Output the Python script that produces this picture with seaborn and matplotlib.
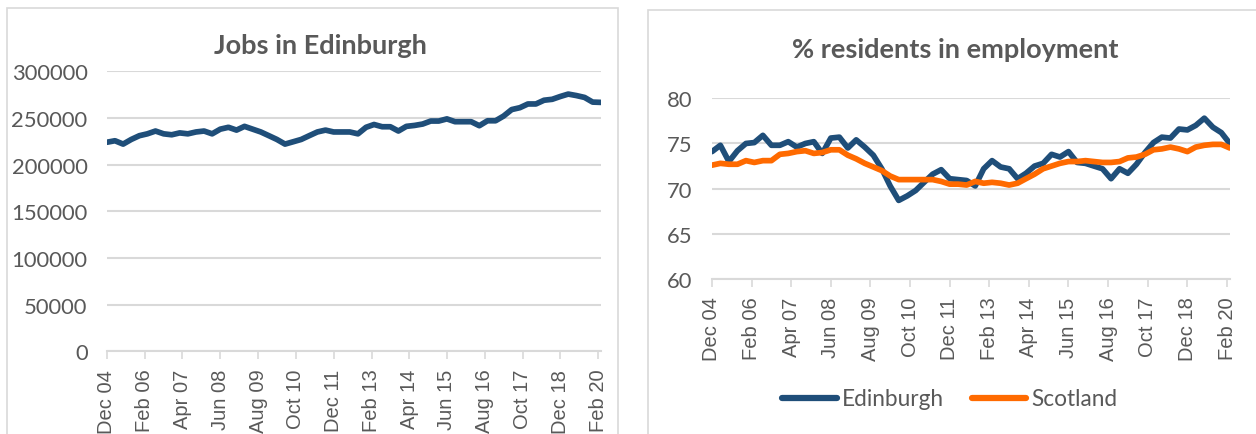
import matplotlib
matplotlib.use("Agg")
import matplotlib.pyplot as plt
from matplotlib.patches import Rectangle
import numpy as np
import pandas as pd
import seaborn as sns

# Quarterly observations, Dec 2004 to Mar 2020
periods = pd.date_range("2004-12-01", periods=62, freq="3MS")

jobs_edinburgh = [
    224000, 225600, 222000, 227000, 231000, 233000, 236000, 233000, 232000, 234000,
    233000, 235000, 236000, 233000, 238000, 240000, 237000, 241000, 238000, 235000,
    231000, 227000, 222000, 224500, 227000, 231000, 235000, 237000, 235000, 235000,
    235000, 233000, 240000, 243000, 240600, 240600, 236000, 241000, 242000, 243500,
    246700, 246700, 249000, 246000, 246000, 246000, 241700, 247000, 247000, 252000,
    259000, 261000, 265000, 265000, 269000, 270000, 273000, 275600, 274000, 272000,
    267000, 266700,
]

employment_edinburgh = [
    74.1, 74.8, 73.0, 74.2, 75.0, 75.1, 75.9, 74.8, 74.8, 75.2,
    74.6, 75.0, 75.2, 73.9, 75.6, 75.7, 74.5, 75.4, 74.6, 73.7,
    72.2, 70.3, 68.7, 69.2, 69.8, 70.7, 71.6, 72.1, 71.1, 71.0,
    70.9, 70.3, 72.2, 73.1, 72.4, 72.2, 71.1, 71.7, 72.5, 72.8,
    73.8, 73.5, 74.1, 72.9, 72.8, 72.5, 72.2, 71.1, 72.2, 71.7,
    72.7, 74.0, 75.1, 75.7, 75.6, 76.6, 76.5, 77.0, 77.8, 76.8,
    76.2, 75.0,
]

employment_scotland = [
    72.6, 72.8, 72.7, 72.7, 73.1, 72.9, 73.1, 73.1, 73.8, 73.9,
    74.1, 74.2, 73.9, 74.0, 74.3, 74.3, 73.7, 73.3, 72.8, 72.4,
    72.0, 71.4, 71.0, 71.0, 71.0, 71.0, 71.0, 70.8, 70.5, 70.5,
    70.4, 70.8, 70.6, 70.7, 70.6, 70.4, 70.6, 71.1, 71.6, 72.2,
    72.5, 72.8, 73.0, 73.0, 73.1, 73.0, 72.9, 72.9, 73.0, 73.4,
    73.5, 73.8, 74.3, 74.4, 74.6, 74.4, 74.1, 74.6, 74.8, 74.9,
    74.9, 74.5,
]

tick_dates = pd.date_range("2004-12-01", periods=14, freq="14MS")
tick_labels = ["Dec 04", "Feb 06", "Apr 07", "Jun 08", "Aug 09", "Oct 10", "Dec 11",
               "Feb 13", "Apr 14", "Jun 15", "Aug 16", "Oct 17", "Dec 18", "Feb 20"]

jobs_ticks = [0, 50000, 100000, 150000, 200000, 250000, 300000]
employment_ticks = [60, 65, 70, 75, 80]

NAVY = "#1F4E79"
ORANGE = "#FF6A00"
TEXT = "#595959"
GRID = "#D9D9D9"

sns.set_theme(style="white")
plt.rcParams["font.family"] = ["Lato", "DejaVu Sans"]
plt.rcParams["lines.solid_joinstyle"] = "round"
plt.rcParams["lines.solid_capstyle"] = "round"

W, H = 1256, 435
fig = plt.figure(figsize=(W / 100, H / 100), dpi=100)
fig.patch.set_facecolor("white")


def axes_px(left, top, right, bottom):
    return fig.add_axes([left / W, 1 - bottom / H, (right - left) / W, (bottom - top) / H])


# chart frames
for (l, t, r, b) in [(7, 9, 618, 445), (648, 10.5, 1270, 445)]:
    fig.patches.append(Rectangle((l / W, 1 - b / H), (r - l) / W, (b - t) / H,
                                 transform=fig.transFigure, fill=False,
                                 edgecolor=GRID, linewidth=1.2, zorder=0))

ax1 = axes_px(107, 72.3, 600.7, 352.3)
ax2 = axes_px(712, 99.3, 1229.8, 280)

jobs_df = pd.DataFrame({"period": periods, "jobs": jobs_edinburgh})
emp_df = pd.concat([
    pd.DataFrame({"period": periods, "rate": employment_edinburgh, "area": "Edinburgh"}),
    pd.DataFrame({"period": periods, "rate": employment_scotland, "area": "Scotland"}),
])

sns.lineplot(data=jobs_df, x="period", y="jobs", ax=ax1, color=NAVY, linewidth=4.1)
sns.lineplot(data=emp_df, x="period", y="rate", hue="area", ax=ax2,
             palette={"Edinburgh": NAVY, "Scotland": ORANGE}, linewidth=4.1,
             legend=False)


def style_axes(ax, yticks, ylim):
    ax.set_xlim(periods[0], periods[-1])
    ax.set_ylim(*ylim)
    ax.set_yticks(yticks)
    ax.set_yticklabels([str(v) for v in yticks], fontsize=15.8, color=TEXT)
    ax.set_xticks(tick_dates)
    ax.set_xticklabels(tick_labels, rotation=90, fontsize=14.5,
                       family=["Liberation Sans", "DejaVu Sans"], color=TEXT)
    ax.set_xlabel("")
    ax.set_ylabel("")
    ax.grid(axis="y", color=GRID, linewidth=1.5)
    ax.set_axisbelow(True)
    for side in ["top", "right", "left"]:
        ax.spines[side].set_visible(False)
    ax.spines["bottom"].set_color(GRID)
    ax.spines["bottom"].set_linewidth(1.5)
    ax.spines["bottom"].set_zorder(0.5)
    ax.tick_params(axis="x", length=5.5, width=1.2, color=GRID, pad=7, bottom=True)
    ax.tick_params(axis="y", length=0, pad=14)
    ax.set_facecolor("white")


style_axes(ax1, jobs_ticks, (0, 300000))
style_axes(ax2, employment_ticks, (60, 80))

fig.text(320 / W, 1 - 46 / H, "Jobs in Edinburgh", ha="center", va="center",
         fontsize=19.5, fontweight="bold", color=TEXT)
fig.text(955 / W, 1 - 50 / H, "% residents in employment", ha="center", va="center",
         fontsize=19.5, fontweight="bold", color=TEXT)

handles = [plt.Line2D([], [], color=NAVY, linewidth=4.5, solid_capstyle="round"),
           plt.Line2D([], [], color=ORANGE, linewidth=4.5, solid_capstyle="round")]
fig.legend(handles, ["Edinburgh", "Scotland"], loc="center",
           bbox_to_anchor=(950 / W, 1 - 400 / H), ncol=2, frameon=False,
           fontsize=16.3, labelcolor=TEXT, handlelength=2.4, handletextpad=0.25,
           columnspacing=1.2)

fig.savefig("out.png", dpi=100, facecolor="white")
